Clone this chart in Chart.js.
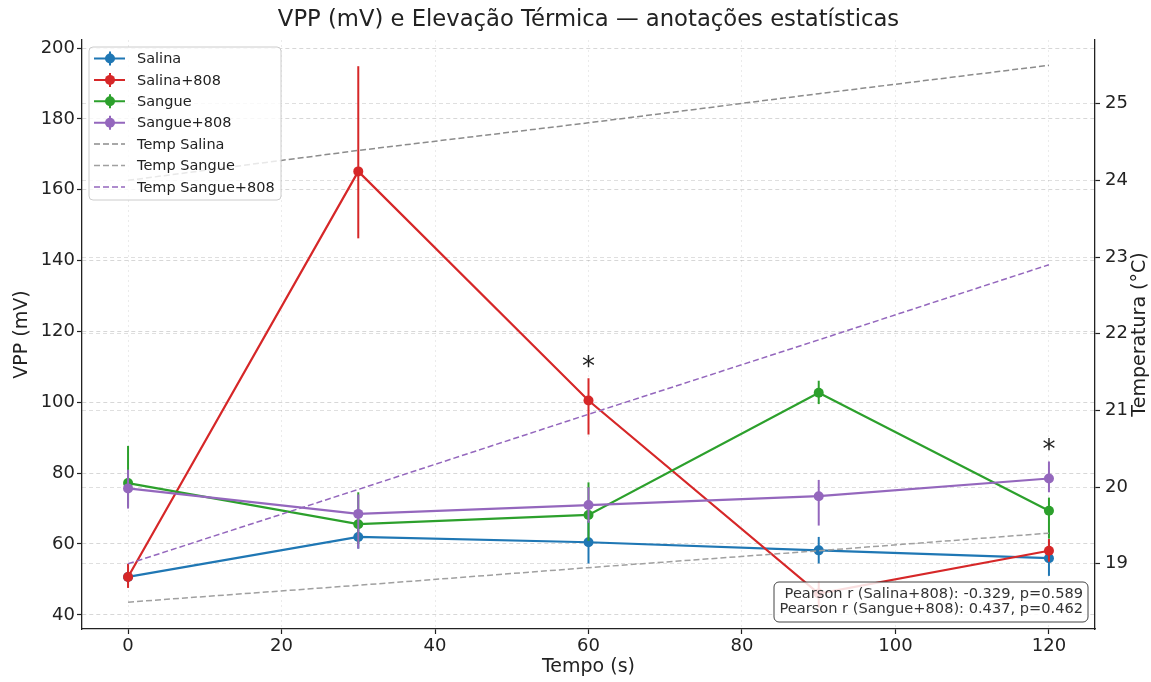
<!DOCTYPE html>
<html>
<head>
<meta charset="utf-8">
<script src="https://cdn.jsdelivr.net/npm/chart.js@4.4.1/dist/chart.umd.min.js"></script>
<style>
  html, body { margin: 0; padding: 0; background: #fff; }
</style>
</head>
<body>
<canvas id="myChart" width="1151" height="682"></canvas>
<script>
// time points along the x-axis (s)
var tempo = [0, 30, 60, 90, 120];
// VPP means (mV)
var salina = [50.7, 62.0, 60.5, 58.2, 56.0];
var salina808 = [50.7, 165.2, 100.5, 46.0, 58.1];
var sangue = [77.2, 65.6, 68.2, 102.7, 69.4];
var sangue808 = [75.7, 68.5, 71.0, 73.5, 78.5];
// error bar ends (mV): lower and upper
var salinaLo = [49.0, 58.7, 54.5, 54.5, 51.0];
var salinaHi = [52.5, 65.0, 66.5, 62.0, 61.0];
var salina808Lo = [47.6, 146.3, 90.9, 42.0, 55.0];
var salina808Hi = [54.4, 194.9, 106.8, 49.3, 61.4];
var sangueLo = [70.5, 60.0, 60.9, 99.5, 61.5];
var sangueHi = [87.7, 74.6, 77.4, 106.1, 73.1];
var sangue808Lo = [70.0, 58.7, 66.0, 65.2, 74.6];
var sangue808Hi = [81.0, 74.0, 76.0, 78.1, 83.3];
// temperature (°C), right axis
var tempSalina = [24.0, 24.39, 24.75, 25.13, 25.5];
var tempSangue = [18.5, 18.72, 18.95, 19.17, 19.4];
var tempSangue808 = [19.0, 19.97, 20.95, 21.92, 22.9];
// tick labels
var xTicks = [0, 20, 40, 60, 80, 100, 120];
var vppTicks = [40, 60, 80, 100, 120, 140, 160, 180, 200];
var tempTicks = [19, 20, 21, 22, 23, 24, 25];
// significance marks: which series, at which time
var starSeries = [1, 3];
var starTimes = [60, 120];
var pearsonLines = [
  "Pearson r (Salina+808): -0.329, p=0.589",
  "Pearson r (Sangue+808): 0.437, p=0.462"
];

var FONT = "'DejaVu Sans', sans-serif";
var INK = "#222";

function pts(ys) {
  return tempo.map(function (t, i) { return { x: t, y: ys[i] }; });
}

function vppSet(label, ys, lo, hi, color, idx) {
  return {
    label: label, data: pts(ys), lo: lo, hi: hi, yAxisID: 'y',
    borderColor: color, backgroundColor: color, borderWidth: 2.2,
    pointRadius: 5, pointHoverRadius: 5, pointBorderWidth: 0,
    pointBackgroundColor: color, tension: 0, order: 10 - idx
  };
}
function tempSet(label, ys, color, idx) {
  return {
    label: label, data: pts(ys), yAxisID: 'y1', dashed: true,
    borderColor: color, backgroundColor: color, borderWidth: 1.5,
    borderDash: [6, 3], pointRadius: 0, tension: 0, order: 10 - idx
  };
}

var extras = {
  id: 'extras',
  afterDatasetDraw: function (chart, args) {
    var ds = chart.data.datasets[args.index];
    if (!ds.lo) return;
    var ctx = chart.ctx, xs = chart.scales.x, ys = chart.scales.y, a = chart.chartArea;
    ctx.save();
    ctx.beginPath(); ctx.rect(a.left, a.top, a.right - a.left, a.bottom - a.top); ctx.clip();
    ctx.strokeStyle = ds.borderColor; ctx.lineWidth = 2;
    ds.data.forEach(function (p, i) {
      var px = xs.getPixelForValue(p.x);
      ctx.beginPath();
      ctx.moveTo(px, ys.getPixelForValue(ds.lo[i]));
      ctx.lineTo(px, ys.getPixelForValue(ds.hi[i]));
      ctx.stroke();
    });
    ctx.restore();
  },
  afterDraw: function (chart) {
    var ctx = chart.ctx, a = chart.chartArea, xs = chart.scales.x, ys = chart.scales.y;
    ctx.save();
    // title
    ctx.fillStyle = INK; ctx.textAlign = 'center'; ctx.textBaseline = 'middle';
    ctx.font = "22.7px " + FONT;
    ctx.fillText("VPP (mV) e Elevação Térmica — anotações estatísticas", (a.left + a.right) / 2, 20);
    // right axis title, reading upwards
    ctx.save();
    ctx.translate(1140, (a.top + a.bottom) / 2);
    ctx.rotate(-Math.PI / 2);
    ctx.font = "19px " + FONT;
    ctx.fillText("Temperatura (°C)", 0, 0);
    ctx.restore();
    // significance asterisks above the upper error bar
    ctx.font = "26px " + FONT; ctx.textBaseline = 'alphabetic';
    starSeries.forEach(function (s, k) {
      var ds = chart.data.datasets[s];
      var i = tempo.indexOf(starTimes[k]);
      var px = xs.getPixelForValue(starTimes[k]);
      var py = ys.getPixelForValue(ds.hi[i]);
      ctx.fillText("*", px, py - 3);
    });
    // legend
    var lx = a.left + 7, ly = a.top + 7, lw = 192, lh = 153;
    ctx.fillStyle = 'rgba(255,255,255,0.8)';
    ctx.strokeStyle = '#cccccc'; ctx.lineWidth = 1;
    ctx.beginPath(); ctx.roundRect(lx, ly, lw, lh, 4); ctx.fill(); ctx.stroke();
    ctx.font = "14.5px " + FONT; ctx.textAlign = 'left'; ctx.textBaseline = 'middle';
    chart.data.datasets.forEach(function (ds, i) {
      var y = ly + 11.5 + i * 21.4;
      ctx.strokeStyle = ds.borderColor;
      if (ds.dashed) {
        ctx.lineWidth = 1.5; ctx.setLineDash([6, 3]);
        ctx.beginPath(); ctx.moveTo(lx + 5, y); ctx.lineTo(lx + 36, y); ctx.stroke();
        ctx.setLineDash([]);
      } else {
        ctx.lineWidth = 2;
        ctx.beginPath(); ctx.moveTo(lx + 5, y); ctx.lineTo(lx + 36, y);
        ctx.moveTo(lx + 21, y - 7); ctx.lineTo(lx + 21, y + 7); ctx.stroke();
        ctx.fillStyle = ds.borderColor;
        ctx.beginPath(); ctx.arc(lx + 21, y, 5, 0, Math.PI * 2); ctx.fill();
      }
      ctx.fillStyle = INK;
      ctx.fillText(ds.label, lx + 48, y + 1);
    });
    // Pearson box
    var bx = 774, by = 582, bw = 314, bh = 40;
    ctx.fillStyle = 'rgba(255,255,255,0.85)';
    ctx.strokeStyle = '#444'; ctx.lineWidth = 1;
    ctx.beginPath(); ctx.roundRect(bx, by, bw, bh, 5); ctx.fill(); ctx.stroke();
    ctx.fillStyle = '#333'; ctx.font = "14.6px " + FONT; ctx.textAlign = 'right';
    pearsonLines.forEach(function (t, i) {
      ctx.fillText(t, bx + bw - 5, by + 12 + i * 15.5);
    });
    ctx.restore();
  }
};

function gridOpts(color) {
  return {
    color: color, lineWidth: 0.8,
    drawTicks: true, tickLength: 5, tickColor: INK, tickWidth: 1.2, tickBorderDash: []
  };
}

new Chart(document.getElementById("myChart"), {
  type: 'line',
  data: {
    datasets: [
      vppSet("Salina", salina, salinaLo, salinaHi, "#1f77b4", 0),
      vppSet("Salina+808", salina808, salina808Lo, salina808Hi, "#d62728", 1),
      vppSet("Sangue", sangue, sangueLo, sangueHi, "#2ca02c", 2),
      vppSet("Sangue+808", sangue808, sangue808Lo, sangue808Hi, "#9467bd", 3),
      tempSet("Temp Salina", tempSalina, "#8c8c8c", 4),
      tempSet("Temp Sangue", tempSangue, "#a0a0a0", 5),
      tempSet("Temp Sangue+808", tempSangue808, "#9467bd", 6)
    ]
  },
  options: {
    responsive: false,
    animation: false,
    layout: { padding: { top: 40, left: 0, right: 0, bottom: 0 } },
    plugins: { legend: { display: false }, title: { display: false }, tooltip: { enabled: false } },
    scales: {
      x: {
        type: 'linear', min: -6, max: 126,
        afterBuildTicks: function (s) { s.ticks = xTicks.map(function (v) { return { value: v }; }); },
        afterFit: function (s) { s.height = 53; },
        grid: gridOpts('rgba(0,0,0,0.1)'),
        border: { display: true, color: INK, width: 1.3, dash: [2, 3] },
        ticks: { color: INK, font: { family: FONT, size: 18 }, padding: 2, maxRotation: 0 },
        title: { display: true, text: 'Tempo (s)', color: INK, font: { family: FONT, size: 19 }, padding: { top: 0, bottom: 4 } }
      },
      y: {
        position: 'left', min: 36, max: 202.3,
        afterBuildTicks: function (s) { s.ticks = vppTicks.map(function (v) { return { value: v }; }); },
        afterFit: function (s) { s.width = 82; },
        grid: gridOpts('rgba(0,0,0,0.2)'),
        border: { display: true, color: INK, width: 1.3, dash: [4, 3] },
        ticks: { color: INK, font: { family: FONT, size: 18 }, padding: 2 },
        title: { display: true, text: 'VPP (mV)', color: INK, font: { family: FONT, size: 19 }, padding: { top: 11, bottom: 0 } }
      },
      y1: {
        position: 'right', min: 18.15, max: 25.83,
        afterBuildTicks: function (s) { s.ticks = tempTicks.map(function (v) { return { value: v }; }); },
        afterFit: function (s) { s.width = 56; },
        grid: gridOpts('rgba(0,0,0,0.16)'),
        border: { display: true, color: INK, width: 1.3, dash: [4, 3] },
        ticks: { color: INK, font: { family: FONT, size: 18 }, padding: 5 }
      }
    }
  },
  plugins: [extras]
});
</script>
</body>
</html>
